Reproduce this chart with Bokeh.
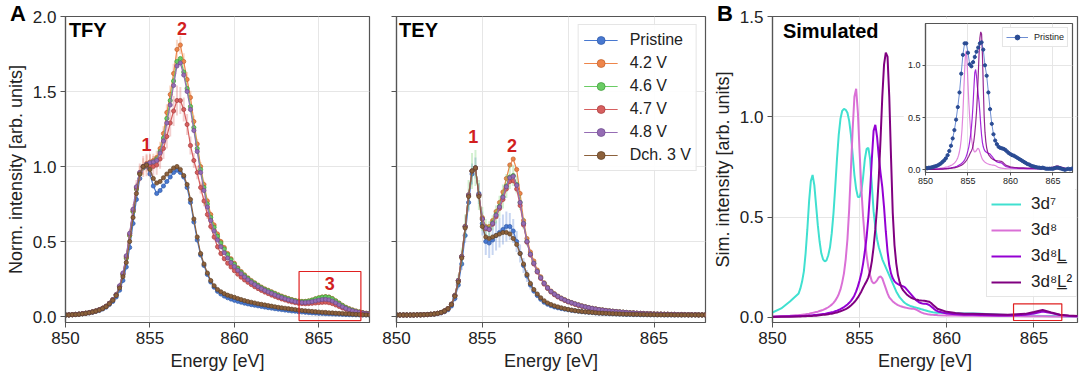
import numpy as np
from bokeh.plotting import figure
from bokeh.models import (Range1d, FixedTicker, NumeralTickFormatter, Label, BoxAnnotation,
                          Legend, LegendItem, GridBox, CustomJSTickFormatter, Div)
from bokeh.embed import file_html
from bokeh.resources import INLINE

# ---------------- data ----------------
# measurement energy grid (eV), 0.2 eV step
energy = np.round(np.arange(850.0, 868.01, 0.2), 1)

series_labels = ["Pristine", "4.2 V", "4.6 V", "4.7 V", "4.8 V", "Dch. 3 V"]
series_colors = ["#4878d0", "#ee854a", "#6acc64", "#d65f5f", "#956cb4", "#8c613c"]
series_edges = ["#2f5aa8", "#c0622c", "#3f9a3a", "#a83c3c", "#6d4a8c", "#5e3f24"]

tfy_pristine = [
    0.010, 0.010, 0.012, 0.013, 0.015,  0.018, 0.020, 0.024, 0.028, 0.034,
    0.040, 0.050, 0.062, 0.080, 0.100,  0.130, 0.175, 0.240, 0.330, 0.460,
    0.620, 0.780, 0.920, 0.990, 1.000,  0.950, 0.870, 0.820, 0.840, 0.870,
    0.900, 0.930, 0.960, 0.975, 0.960,  0.930, 0.860, 0.760, 0.630, 0.510,
    0.410, 0.340, 0.280, 0.230, 0.195,  0.168, 0.150, 0.136, 0.125, 0.116,
    0.108, 0.101, 0.095, 0.089, 0.084,  0.079, 0.075, 0.071, 0.067, 0.063,
    0.059, 0.056, 0.052, 0.049, 0.046,  0.043, 0.040, 0.037, 0.035, 0.032,
    0.030, 0.028, 0.026, 0.024, 0.023,  0.021, 0.020, 0.019, 0.018, 0.017,
    0.016, 0.015, 0.014, 0.013, 0.012,  0.012, 0.011, 0.011, 0.010, 0.010,
    0.010]
tfy_42 = [
    0.010, 0.011, 0.012, 0.014, 0.016,  0.019, 0.022, 0.026, 0.031, 0.037,
    0.045, 0.055, 0.068, 0.088, 0.112,  0.145, 0.200, 0.280, 0.390, 0.540,
    0.700, 0.850, 0.955, 1.000, 1.020,  1.030, 1.040, 1.060, 1.120, 1.220,
    1.360, 1.480, 1.620, 1.780, 1.810,  1.700, 1.580, 1.460, 1.300, 1.150,
    1.000, 0.880, 0.770, 0.680, 0.610,  0.550, 0.500, 0.460, 0.420, 0.385,
    0.355, 0.325, 0.300, 0.278, 0.258,  0.240, 0.225, 0.210, 0.196, 0.184,
    0.175, 0.165, 0.155, 0.145, 0.136,  0.128, 0.120, 0.113, 0.107, 0.103,
    0.101, 0.101, 0.104, 0.110, 0.118,  0.125, 0.130, 0.132, 0.130, 0.120,
    0.105, 0.090, 0.075, 0.062, 0.052,  0.044, 0.037, 0.031, 0.026, 0.022,
    0.020]
tfy_46 = [
    0.010, 0.011, 0.012, 0.014, 0.016,  0.019, 0.022, 0.026, 0.031, 0.037,
    0.045, 0.055, 0.068, 0.088, 0.112,  0.145, 0.200, 0.280, 0.390, 0.540,
    0.700, 0.850, 0.950, 0.995, 1.010,  1.020, 1.030, 1.050, 1.100, 1.190,
    1.320, 1.440, 1.570, 1.700, 1.720,  1.630, 1.520, 1.400, 1.260, 1.120,
    0.980, 0.860, 0.750, 0.660, 0.595,  0.535, 0.490, 0.450, 0.412, 0.378,
    0.348, 0.320, 0.295, 0.273, 0.254,  0.236, 0.221, 0.207, 0.193, 0.181,
    0.172, 0.162, 0.152, 0.142, 0.133,  0.125, 0.118, 0.111, 0.105, 0.101,
    0.099, 0.100, 0.103, 0.109, 0.117,  0.124, 0.129, 0.131, 0.128, 0.118,
    0.103, 0.088, 0.073, 0.060, 0.050,  0.042, 0.035, 0.030, 0.025, 0.021,
    0.019]
tfy_47 = [
    0.010, 0.011, 0.012, 0.014, 0.016,  0.019, 0.022, 0.026, 0.031, 0.037,
    0.045, 0.055, 0.068, 0.088, 0.112,  0.145, 0.200, 0.285, 0.400, 0.550,
    0.710, 0.860, 0.960, 1.000, 1.010,  1.010, 1.000, 1.010, 1.050, 1.120,
    1.200, 1.290, 1.370, 1.440, 1.440,  1.380, 1.280, 1.140, 1.040, 0.960,
    0.860, 0.770, 0.680, 0.600, 0.530,  0.465, 0.420, 0.385, 0.355, 0.330,
    0.305, 0.282, 0.262, 0.244, 0.228,  0.213, 0.199, 0.186, 0.174, 0.163,
    0.153, 0.143, 0.134, 0.125, 0.117,  0.110, 0.103, 0.097, 0.092, 0.088,
    0.086, 0.085, 0.086, 0.088, 0.090,  0.092, 0.094, 0.095, 0.092, 0.086,
    0.077, 0.067, 0.057, 0.048, 0.041,  0.035, 0.030, 0.026, 0.023, 0.020,
    0.018]
tfy_48 = [
    0.010, 0.011, 0.012, 0.014, 0.016,  0.019, 0.022, 0.026, 0.031, 0.037,
    0.045, 0.055, 0.068, 0.088, 0.112,  0.145, 0.205, 0.290, 0.405, 0.555,
    0.715, 0.865, 0.960, 1.000, 1.015,  1.025, 1.030, 1.040, 1.090, 1.170,
    1.290, 1.410, 1.540, 1.670, 1.690,  1.610, 1.500, 1.380, 1.240, 1.100,
    0.960, 0.840, 0.730, 0.640, 0.570,  0.510, 0.465, 0.425, 0.390, 0.360,
    0.333, 0.308, 0.285, 0.264, 0.245,  0.228, 0.213, 0.199, 0.186, 0.174,
    0.164, 0.154, 0.144, 0.135, 0.126,  0.118, 0.111, 0.105, 0.099, 0.095,
    0.093, 0.093, 0.095, 0.099, 0.104,  0.109, 0.113, 0.114, 0.111, 0.103,
    0.091, 0.078, 0.065, 0.054, 0.045,  0.038, 0.032, 0.027, 0.023, 0.020,
    0.018]
tfy_dch = [
    0.010, 0.010, 0.012, 0.013, 0.015,  0.018, 0.021, 0.025, 0.030, 0.036,
    0.043, 0.053, 0.066, 0.085, 0.108,  0.140, 0.190, 0.265, 0.360, 0.500,
    0.660, 0.820, 0.950, 1.000, 1.010,  0.980, 0.920, 0.890, 0.900, 0.925,
    0.950, 0.970, 0.990, 1.000, 0.980,  0.940, 0.880, 0.780, 0.650, 0.530,
    0.420, 0.350, 0.290, 0.240, 0.205,  0.180, 0.165, 0.152, 0.142, 0.135,
    0.128, 0.120, 0.113, 0.106, 0.100,  0.095, 0.090, 0.085, 0.081, 0.077,
    0.073, 0.069, 0.065, 0.061, 0.058,  0.055, 0.052, 0.049, 0.046, 0.043,
    0.040, 0.038, 0.036, 0.034, 0.032,  0.030, 0.028, 0.027, 0.025, 0.024,
    0.022, 0.021, 0.020, 0.018, 0.017,  0.015, 0.014, 0.013, 0.012, 0.011,
    0.010]

tfy_err_42 = [
    0.004, 0.004, 0.004, 0.004, 0.004,  0.004, 0.004, 0.004, 0.004, 0.004,
    0.005, 0.005, 0.005, 0.006, 0.007,  0.008, 0.010, 0.012, 0.015, 0.020,
    0.030, 0.040, 0.050, 0.055, 0.055,  0.050, 0.045, 0.045, 0.045, 0.050,
    0.055, 0.060, 0.065, 0.065, 0.060,  0.055, 0.050, 0.045, 0.040, 0.035,
    0.030, 0.025, 0.022, 0.020, 0.018,  0.016, 0.015, 0.014, 0.013, 0.012,
    0.011, 0.010, 0.010, 0.010, 0.010,  0.010, 0.010, 0.010, 0.010, 0.010,
    0.010, 0.010, 0.010, 0.010, 0.010,  0.010, 0.010, 0.010, 0.010, 0.010,
    0.010, 0.010, 0.010, 0.010, 0.010,  0.010, 0.010, 0.010, 0.010, 0.010,
    0.008, 0.008, 0.008, 0.008, 0.008,  0.006, 0.006, 0.006, 0.006, 0.006,
    0.006]
tfy_err_47 = [
    0.005, 0.005, 0.005, 0.005, 0.005,  0.005, 0.005, 0.005, 0.005, 0.005,
    0.005, 0.005, 0.006, 0.007, 0.008,  0.010, 0.012, 0.015, 0.020, 0.030,
    0.040, 0.050, 0.060, 0.070, 0.075,  0.075, 0.070, 0.065, 0.065, 0.070,
    0.080, 0.090, 0.100, 0.100, 0.090,  0.080, 0.070, 0.060, 0.050, 0.045,
    0.040, 0.035, 0.030, 0.025, 0.022,  0.020, 0.018, 0.016, 0.015, 0.014,
    0.013, 0.012, 0.012, 0.012, 0.012,  0.012, 0.012, 0.012, 0.012, 0.012,
    0.012, 0.012, 0.012, 0.012, 0.012,  0.012, 0.012, 0.012, 0.012, 0.012,
    0.012, 0.012, 0.012, 0.012, 0.012,  0.012, 0.012, 0.012, 0.012, 0.012,
    0.010, 0.010, 0.010, 0.010, 0.010,  0.008, 0.008, 0.008, 0.008, 0.008,
    0.008]

tey_pristine = [
    0.010, 0.010, 0.010, 0.010, 0.010,  0.010, 0.011, 0.011, 0.012, 0.013,
    0.014, 0.016, 0.019, 0.024, 0.032,  0.045, 0.070, 0.120, 0.210, 0.350,
    0.540, 0.760, 0.950, 0.990, 0.820,  0.620, 0.500, 0.490, 0.510, 0.540,
    0.560, 0.580, 0.600, 0.600, 0.570,  0.500, 0.420, 0.340, 0.270, 0.210,
    0.170, 0.140, 0.115, 0.095, 0.082,  0.072, 0.064, 0.058, 0.053, 0.049,
    0.045, 0.041, 0.038, 0.035, 0.032,  0.030, 0.028, 0.026, 0.024, 0.022,
    0.021, 0.020, 0.019, 0.018, 0.017,  0.016, 0.015, 0.014, 0.014, 0.013,
    0.013, 0.012, 0.012, 0.012, 0.011,  0.011, 0.011, 0.011, 0.010, 0.010,
    0.010, 0.010, 0.010, 0.010, 0.010,  0.010, 0.010, 0.010, 0.010, 0.010,
    0.010]
tey_42 = [
    0.010, 0.010, 0.010, 0.010, 0.010,  0.010, 0.011, 0.011, 0.012, 0.013,
    0.015, 0.017, 0.021, 0.027, 0.037,  0.052, 0.082, 0.140, 0.240, 0.400,
    0.600, 0.810, 0.970, 0.990, 0.810,  0.660, 0.600, 0.600, 0.640, 0.700,
    0.760, 0.830, 0.920, 1.010, 1.050,  0.980, 0.820, 0.640, 0.520, 0.430,
    0.370, 0.310, 0.265, 0.225, 0.195,  0.170, 0.152, 0.136, 0.123, 0.112,
    0.102, 0.093, 0.085, 0.078, 0.071,  0.065, 0.060, 0.055, 0.051, 0.047,
    0.044, 0.041, 0.038, 0.035, 0.033,  0.031, 0.029, 0.027, 0.025, 0.024,
    0.022, 0.021, 0.020, 0.019, 0.018,  0.017, 0.016, 0.016, 0.015, 0.015,
    0.014, 0.014, 0.013, 0.013, 0.013,  0.012, 0.012, 0.012, 0.011, 0.011,
    0.011]
tey_46 = [
    0.010, 0.010, 0.010, 0.010, 0.010,  0.010, 0.011, 0.011, 0.012, 0.013,
    0.015, 0.017, 0.021, 0.027, 0.037,  0.052, 0.082, 0.140, 0.240, 0.400,
    0.600, 0.810, 0.970, 0.990, 0.810,  0.650, 0.590, 0.585, 0.625, 0.680,
    0.735, 0.800, 0.870, 0.930, 0.940,  0.880, 0.760, 0.620, 0.500, 0.415,
    0.355, 0.300, 0.258, 0.220, 0.190,  0.166, 0.148, 0.133, 0.120, 0.109,
    0.099, 0.091, 0.083, 0.076, 0.069,  0.064, 0.059, 0.054, 0.050, 0.046,
    0.043, 0.040, 0.037, 0.035, 0.033,  0.031, 0.029, 0.027, 0.025, 0.024,
    0.022, 0.021, 0.020, 0.019, 0.018,  0.017, 0.016, 0.016, 0.015, 0.015,
    0.014, 0.014, 0.013, 0.013, 0.013,  0.012, 0.012, 0.012, 0.011, 0.011,
    0.011]
tey_47 = [
    0.010, 0.010, 0.010, 0.010, 0.010,  0.010, 0.011, 0.011, 0.012, 0.013,
    0.015, 0.017, 0.021, 0.027, 0.037,  0.052, 0.082, 0.140, 0.240, 0.400,
    0.600, 0.810, 0.970, 0.990, 0.810,  0.650, 0.585, 0.580, 0.615, 0.665,
    0.720, 0.780, 0.850, 0.900, 0.905,  0.850, 0.740, 0.610, 0.495, 0.410,
    0.350, 0.296, 0.254, 0.216, 0.187,  0.163, 0.145, 0.130, 0.118, 0.107,
    0.097, 0.089, 0.081, 0.074, 0.068,  0.063, 0.058, 0.053, 0.049, 0.045,
    0.042, 0.039, 0.036, 0.034, 0.032,  0.030, 0.028, 0.026, 0.025, 0.023,
    0.022, 0.021, 0.020, 0.019, 0.018,  0.017, 0.016, 0.016, 0.015, 0.015,
    0.014, 0.014, 0.013, 0.013, 0.013,  0.012, 0.012, 0.012, 0.011, 0.011,
    0.011]
tey_48 = [
    0.010, 0.010, 0.010, 0.010, 0.010,  0.010, 0.011, 0.011, 0.012, 0.013,
    0.015, 0.017, 0.021, 0.027, 0.037,  0.052, 0.082, 0.140, 0.240, 0.400,
    0.600, 0.810, 0.970, 0.990, 0.810,  0.650, 0.590, 0.580, 0.620, 0.675,
    0.730, 0.795, 0.865, 0.925, 0.935,  0.875, 0.760, 0.620, 0.500, 0.415,
    0.355, 0.300, 0.258, 0.221, 0.191,  0.167, 0.149, 0.134, 0.121, 0.110,
    0.100, 0.092, 0.084, 0.077, 0.070,  0.064, 0.059, 0.054, 0.050, 0.046,
    0.043, 0.040, 0.037, 0.035, 0.033,  0.031, 0.029, 0.027, 0.025, 0.024,
    0.022, 0.021, 0.020, 0.019, 0.018,  0.017, 0.016, 0.016, 0.015, 0.015,
    0.014, 0.014, 0.013, 0.013, 0.013,  0.012, 0.012, 0.012, 0.011, 0.011,
    0.011]
tey_dch = [
    0.010, 0.010, 0.010, 0.010, 0.010,  0.010, 0.011, 0.011, 0.012, 0.013,
    0.015, 0.017, 0.021, 0.027, 0.037,  0.052, 0.080, 0.135, 0.230, 0.390,
    0.590, 0.800, 0.970, 0.990, 0.800,  0.600, 0.530, 0.520, 0.530, 0.540,
    0.550, 0.560, 0.560, 0.550, 0.520,  0.480, 0.420, 0.350, 0.280, 0.220,
    0.180, 0.150, 0.125, 0.105, 0.090,  0.080, 0.071, 0.064, 0.058, 0.052,
    0.047, 0.043, 0.039, 0.036, 0.033,  0.031, 0.029, 0.027, 0.025, 0.023,
    0.022, 0.021, 0.020, 0.019, 0.018,  0.017, 0.016, 0.015, 0.015, 0.014,
    0.014, 0.013, 0.013, 0.012, 0.012,  0.012, 0.011, 0.011, 0.011, 0.011,
    0.011, 0.010, 0.010, 0.010, 0.010,  0.010, 0.010, 0.010, 0.010, 0.010,
    0.010]

tey_err_pristine = [
    0.003, 0.003, 0.003, 0.003, 0.003,  0.003, 0.003, 0.003, 0.003, 0.003,
    0.003, 0.003, 0.004, 0.004, 0.005,  0.006, 0.010, 0.020, 0.030, 0.040,
    0.050, 0.060, 0.070, 0.070, 0.070,  0.080, 0.090, 0.100, 0.100, 0.100,
    0.100, 0.100, 0.100, 0.090, 0.080,  0.070, 0.060, 0.050, 0.040, 0.030,
    0.020, 0.018, 0.015, 0.012, 0.010,  0.008, 0.007, 0.006, 0.005, 0.005,
    0.004, 0.004, 0.004, 0.004, 0.004,  0.004, 0.004, 0.004, 0.004, 0.004,
    0.003, 0.003, 0.003, 0.003, 0.003,  0.003, 0.003, 0.003, 0.003, 0.003,
    0.003, 0.003, 0.003, 0.003, 0.003,  0.003, 0.003, 0.003, 0.003, 0.003,
    0.003, 0.003, 0.003, 0.003, 0.003,  0.003, 0.003, 0.003, 0.003, 0.003,
    0.003]
tey_err_46 = [
    0.003, 0.003, 0.003, 0.003, 0.003,  0.003, 0.003, 0.003, 0.003, 0.003,
    0.003, 0.003, 0.004, 0.004, 0.005,  0.006, 0.010, 0.020, 0.040, 0.060,
    0.080, 0.100, 0.120, 0.120, 0.100,  0.080, 0.060, 0.050, 0.050, 0.060,
    0.070, 0.080, 0.080, 0.080, 0.070,  0.060, 0.050, 0.040, 0.030, 0.020,
    0.015, 0.012, 0.010, 0.008, 0.007,  0.006, 0.005, 0.005, 0.004, 0.004,
    0.004, 0.004, 0.004, 0.004, 0.004,  0.004, 0.004, 0.004, 0.004, 0.004,
    0.003, 0.003, 0.003, 0.003, 0.003,  0.003, 0.003, 0.003, 0.003, 0.003,
    0.003, 0.003, 0.003, 0.003, 0.003,  0.003, 0.003, 0.003, 0.003, 0.003,
    0.003, 0.003, 0.003, 0.003, 0.003,  0.003, 0.003, 0.003, 0.003, 0.003,
    0.003]

# simulated spectra: coarse grid outside 851.5-859.5 eV, 0.1 eV inside
sim_energy = np.round(np.concatenate([[850.0, 850.5, 851.0],
                                      np.arange(851.5, 859.51, 0.1),
                                      np.arange(860.0, 868.01, 0.5)]), 2)
sim_labels = ["3d\u2077", "3d\u2078", "3d\u2078L\u0332", "3d\u2078L\u0332\u00b2"]
sim_colors = ["#40e0d0", "#da70d6", "#9400d3", "#800080"]

sim_3d7 = [0.025, 0.045, 0.080,
    0.120, 0.145, 0.180, 0.230, 0.320, 0.440, 0.580, 0.680, 0.710, 0.660,
    0.560, 0.460, 0.380, 0.320, 0.290, 0.280, 0.285, 0.310, 0.350, 0.420,
    0.520, 0.650, 0.790, 0.910, 0.990, 1.030, 1.040, 1.035, 1.020, 0.980,
    0.910, 0.810, 0.710, 0.640, 0.600, 0.600, 0.630, 0.700, 0.790, 0.840,
    0.845, 0.790, 0.660, 0.530, 0.450, 0.390, 0.350, 0.320, 0.290, 0.270,
    0.250, 0.230, 0.210, 0.190, 0.170, 0.150, 0.130, 0.115, 0.100, 0.090,
    0.080, 0.072, 0.066, 0.062, 0.058, 0.055, 0.052, 0.050, 0.048, 0.045,
    0.042, 0.040, 0.037, 0.035, 0.032, 0.030, 0.028, 0.026, 0.025, 0.024,
    0.023,
    0.022, 0.021, 0.020, 0.020, 0.018, 0.016, 0.014, 0.012, 0.011, 0.010,
    0.009, 0.008, 0.007, 0.006, 0.005, 0.005, 0.004]
sim_3d8 = [0.005, 0.007, 0.009,
    0.012, 0.013, 0.014, 0.015, 0.016, 0.018, 0.019, 0.021, 0.023, 0.025,
    0.027, 0.029, 0.032, 0.035, 0.038, 0.042, 0.046, 0.051, 0.057, 0.064,
    0.073, 0.084, 0.098, 0.116, 0.140, 0.175, 0.220, 0.290, 0.390, 0.540,
    0.740, 0.940, 1.100, 1.140, 1.020, 0.820, 0.640, 0.500, 0.390, 0.310,
    0.250, 0.210, 0.180, 0.170, 0.175, 0.185, 0.200, 0.205, 0.195, 0.170,
    0.145, 0.120, 0.100, 0.090, 0.080, 0.073, 0.067, 0.062, 0.058, 0.055,
    0.052, 0.050, 0.048, 0.046, 0.045, 0.044, 0.043, 0.041, 0.037, 0.032,
    0.027, 0.023, 0.020, 0.018, 0.016, 0.015, 0.014, 0.013, 0.012, 0.012,
    0.011,
    0.010, 0.010, 0.009, 0.009, 0.008, 0.008, 0.007, 0.007, 0.007, 0.006,
    0.006, 0.006, 0.005, 0.005, 0.005, 0.004, 0.004]
sim_3d8L = [0.004, 0.005, 0.006,
    0.007, 0.007, 0.008, 0.008, 0.009, 0.009, 0.010, 0.010, 0.011, 0.012,
    0.013, 0.014, 0.015, 0.016, 0.017, 0.018, 0.020, 0.022, 0.024, 0.026,
    0.028, 0.031, 0.034, 0.038, 0.042, 0.047, 0.052, 0.058, 0.065, 0.073,
    0.083, 0.095, 0.110, 0.130, 0.155, 0.185, 0.220, 0.270, 0.330, 0.400,
    0.500, 0.630, 0.790, 0.930, 0.960, 0.900, 0.800, 0.720, 0.650, 0.550,
    0.430, 0.330, 0.260, 0.220, 0.195, 0.180, 0.172, 0.166, 0.162, 0.158,
    0.155, 0.150, 0.140, 0.130, 0.120, 0.110, 0.100, 0.090, 0.082, 0.076,
    0.072, 0.070, 0.069, 0.068, 0.066, 0.062, 0.055, 0.048, 0.040, 0.034,
    0.030,
    0.020, 0.016, 0.014, 0.013, 0.012, 0.011, 0.010, 0.010, 0.011, 0.013,
    0.020, 0.030, 0.022, 0.012, 0.008, 0.006, 0.005]
sim_3d8L2 = [0.003, 0.004, 0.004,
    0.005, 0.005, 0.006, 0.006, 0.006, 0.007, 0.007, 0.008, 0.008, 0.009,
    0.009, 0.010, 0.011, 0.012, 0.013, 0.014, 0.015, 0.016, 0.018, 0.019,
    0.021, 0.023, 0.025, 0.028, 0.031, 0.034, 0.038, 0.042, 0.047, 0.053,
    0.060, 0.068, 0.077, 0.088, 0.100, 0.115, 0.130, 0.148, 0.165, 0.180,
    0.200, 0.230, 0.280, 0.350, 0.440, 0.550, 0.700, 0.890, 1.100, 1.260,
    1.320, 1.300, 1.100, 0.800, 0.520, 0.360, 0.270, 0.210, 0.175, 0.150,
    0.135, 0.125, 0.115, 0.108, 0.102, 0.097, 0.093, 0.090, 0.088, 0.086,
    0.085, 0.084, 0.083, 0.082, 0.080, 0.078, 0.072, 0.064, 0.056, 0.048,
    0.042,
    0.028, 0.022, 0.019, 0.018, 0.017, 0.016, 0.015, 0.014, 0.016, 0.018,
    0.027, 0.037, 0.025, 0.014, 0.010, 0.008, 0.007]

# inset: pristine experimental spectrum compared with simulations
inset_pristine = [
    0.020, 0.015, 0.020, 0.020, 0.025,  0.030, 0.035, 0.040, 0.050, 0.060,
    0.075, 0.090, 0.110, 0.140, 0.180,  0.230, 0.300, 0.380, 0.480, 0.600,
    0.740, 0.920, 1.100, 1.210, 1.210,  1.120, 1.010, 0.990, 1.030, 1.080,
    1.130, 1.170, 1.210, 1.220, 1.150,  1.000, 0.900, 0.740, 0.580, 0.440,
    0.340, 0.280, 0.245, 0.220, 0.210,  0.205, 0.200, 0.190, 0.175, 0.160,
    0.150, 0.140, 0.135, 0.125, 0.115,  0.105, 0.095, 0.085, 0.075, 0.065,
    0.055, 0.050, 0.040, 0.035, 0.030,  0.025, 0.022, 0.020, 0.018, 0.020,
    0.015, 0.010, 0.010, 0.010, 0.010,  0.010, 0.015, 0.020, 0.020, 0.015,
    0.010, 0.005, 0.000, 0.005, 0.010,  0.005, 0.010, 0.015, 0.020, 0.020,
    0.020]

x_ticks = [850, 855, 860, 865]

for arr in [tfy_pristine, tfy_42, tfy_46, tfy_47, tfy_48, tfy_dch, tfy_err_42, tfy_err_47,
            tey_pristine, tey_42, tey_46, tey_47, tey_48, tey_dch, tey_err_pristine,
            tey_err_46, inset_pristine]:
    assert len(arr) == len(energy), len(arr)
for arr in [sim_3d7, sim_3d8, sim_3d8L, sim_3d8L2]:
    assert len(arr) == len(sim_energy), len(arr)

FONT = "Liberation Sans"
TXT = "#222222"
SPINE = "#555555"


def style(p, tick_size="17px", label_size="18px", tick_out=5):
    p.outline_line_color = SPINE
    p.outline_line_width = 1.2
    p.background_fill_color = "white"
    p.border_fill_color = "white"
    for ax in p.axis:
        ax.axis_line_color = SPINE
        ax.axis_line_width = 1.2
        ax.major_tick_line_color = SPINE
        ax.minor_tick_line_color = None
        ax.major_tick_out = tick_out
        ax.major_tick_in = 0
        ax.major_label_text_font = FONT
        ax.major_label_text_font_size = tick_size
        ax.major_label_text_color = TXT
        ax.major_label_standoff = 4
        ax.axis_label_text_font = FONT
        ax.axis_label_text_font_size = label_size
        ax.axis_label_text_font_style = "normal"
        ax.axis_label_text_color = TXT
        ax.axis_label_standoff = 4
    for g in p.grid:
        g.grid_line_color = "#e6e6e6"
        g.grid_line_width = 1


def make_panel(width, left, yrange, yticks):
    p = figure(width=width, height=377, x_range=Range1d(850, 868), y_range=Range1d(*yrange),
               min_border_left=left, min_border_right=3, min_border_top=16, min_border_bottom=55,
               output_backend="svg", toolbar_location=None)
    p.xaxis.ticker = FixedTicker(ticks=x_ticks)
    p.yaxis.ticker = FixedTicker(ticks=yticks)
    p.yaxis.formatter = NumeralTickFormatter(format="0.0")
    p.xaxis.axis_label = "Energy [eV]"
    return p


def draw_series(p, ys, errs):
    items = []
    for lab, col, edge, y, e in zip(series_labels, series_colors, series_edges, ys, errs):
        y = np.asarray(y)
        if e is not None:
            e = np.asarray(e)
            p.segment(x0=energy, y0=y - e, x1=energy, y1=y + e, line_color=col,
                      line_alpha=0.3, line_width=2)
        ln = p.line(energy, y, line_color=col, line_width=1.2)
        sc = p.scatter(energy, y, size=4.2, fill_color=col, line_color=edge, line_width=0.7)
        items.append(LegendItem(label=lab, renderers=[ln, sc]))
    return items


def label(p, x, y, text, size="20px", color="black", align="left", baseline="top"):
    p.add_layout(Label(x=x, y=y, text=text, text_font=FONT,
                       text_font_size=size, text_font_style="bold", text_color=color,
                       text_align=align, text_baseline=baseline))


def panel_letter(text, pad_left):
    return Div(text=text, width=30, height=26,
               styles={"font-family": FONT, "font-size": "22px", "font-weight": "bold",
                       "color": "black", "padding-left": f"{pad_left}px",
                       "line-height": "26px", "margin-top": "1px"})


RED = "#d21f1f"

# ---------------- panel A: TFY ----------------
p1 = make_panel(372, 65, (-0.04, 2.0), [0, 0.5, 1.0, 1.5, 2.0])
p1.yaxis.axis_label = "Norm. intensity [arb. units]"
style(p1)
draw_series(p1, [tfy_pristine, tfy_42, tfy_46, tfy_47, tfy_48, tfy_dch],
            [None, tfy_err_42, None, tfy_err_47, None, None])
label(p1, 850.2, 1.985, "TFY")
label(p1, 854.8, 1.147, "1", size="18px", color=RED, align="center", baseline="middle")
label(p1, 856.9, 1.923, "2", size="18px", color=RED, align="center", baseline="middle")
label(p1, 865.65, 0.217, "3", size="18px", color=RED, align="center", baseline="middle")
p1.add_layout(BoxAnnotation(left=863.83, right=867.49, bottom=-0.027, top=0.30,
                            fill_color=None, line_color="#e02020", line_alpha=1.0,
                            line_width=1.2))

# ---------------- panel A: TEY ----------------
p2 = make_panel(336, 24, (-0.04, 2.0), [0, 0.5, 1.0, 1.5, 2.0])
style(p2)
p2.yaxis.formatter = CustomJSTickFormatter(code="return ''")
items = draw_series(p2, [tey_pristine, tey_42, tey_46, tey_47, tey_48, tey_dch],
                    [tey_err_pristine, None, tey_err_46, None, None, None])
label(p2, 850.15, 1.985, "TEY")
label(p2, 854.47, 1.20, "1", size="18px", color=RED, align="center", baseline="middle")
label(p2, 856.73, 1.14, "2", size="18px", color=RED, align="center", baseline="middle")
leg = Legend(items=items, location="top_right", margin=8, padding=5, spacing=3,
             glyph_width=34, glyph_height=20, label_height=20, label_standoff=12,
             label_text_font=FONT, label_text_font_size="16px", label_text_color=TXT,
             border_line_color="#cccccc", border_line_width=1, background_fill_alpha=0.9)
p2.add_layout(leg)

# ---------------- panel B: simulated ----------------
p3 = figure(width=372, height=377, x_range=Range1d(850, 867.5), y_range=Range1d(-0.025, 1.5),
            min_border_left=64, min_border_right=3, min_border_top=16, min_border_bottom=55,
            output_backend="svg", toolbar_location=None)
p3.xaxis.ticker = FixedTicker(ticks=x_ticks)
p3.yaxis.ticker = FixedTicker(ticks=[0, 0.5, 1.0, 1.5])
p3.yaxis.formatter = NumeralTickFormatter(format="0.0")
p3.xaxis.axis_label = "Energy [eV]"
p3.yaxis.axis_label = "Sim. intensity [arb. units]"
style(p3)
sim_items = []
for lab, col, y in zip(sim_labels, sim_colors, [sim_3d7, sim_3d8, sim_3d8L, sim_3d8L2]):
    r = p3.line(sim_energy, y, line_color=col, line_width=2)
    sim_items.append(LegendItem(label=lab, renderers=[r]))
label(p3, 850.6, 1.485, "Simulated")
p3.add_layout(BoxAnnotation(left=863.83, right=866.6, bottom=-0.015, top=0.068,
                            fill_color=None, line_color="#e02020", line_alpha=1.0,
                            line_width=1.2))
leg3 = Legend(items=sim_items, location=(214, 25), padding=4, spacing=6,
              glyph_width=30, glyph_height=20, label_height=20, label_standoff=10,
              label_text_font=FONT, label_text_font_size="17px", label_text_color=TXT,
              border_line_color="#cccccc", border_line_width=1, background_fill_alpha=0.9)
p3.add_layout(leg3)

# ---------------- inset ----------------
pi = figure(width=172, height=172, x_range=Range1d(850, 867.3), y_range=Range1d(-0.026, 1.40),
            min_border_left=22, min_border_right=3, min_border_top=5, min_border_bottom=18,
            output_backend="svg", toolbar_location=None)
pi.xaxis.ticker = FixedTicker(ticks=x_ticks)
pi.yaxis.ticker = FixedTicker(ticks=[0, 0.5, 1.0])
pi.yaxis.formatter = NumeralTickFormatter(format="0.0")
style(pi, tick_size="9px", label_size="9px", tick_out=3)
for ax in pi.axis:
    ax.major_label_standoff = 2
for col, y in zip(sim_colors[1:], [sim_3d8, sim_3d8L, sim_3d8L2]):
    pi.line(sim_energy, y, line_color=col, line_width=1.2, line_alpha=0.85)
li = pi.line(energy, inset_pristine, line_color="#4a72c8", line_width=1, line_alpha=0.8)
si = pi.scatter(energy, inset_pristine, size=3.2, fill_color="#2a4b93", line_color="#2a4b93")
legi = Legend(items=[LegendItem(label="Pristine", renderers=[li, si])], location="top_right",
              margin=4, padding=3, spacing=0, glyph_width=22, glyph_height=12, label_height=12,
              label_standoff=6, label_text_font=FONT, label_text_font_size="9px",
              label_text_color=TXT, border_line_color="#cccccc", border_line_width=1)
pi.add_layout(legi)

div_a = panel_letter("A", 5)
div_b = panel_letter("B", 4)

layout = GridBox(children=[(p1, 0, 0, 3, 1), (p2, 0, 1, 3, 1), (p3, 0, 2, 3, 3),
                           (pi, 1, 3, 1, 1), (div_a, 0, 0, 2, 1), (div_b, 0, 2, 2, 1)],
                 rows=["18px", "172px", "187px"],
                 cols=["372px", "336px", "195px", "172px", "5px"])

open("out.html", "w").write(file_html(layout, INLINE))
